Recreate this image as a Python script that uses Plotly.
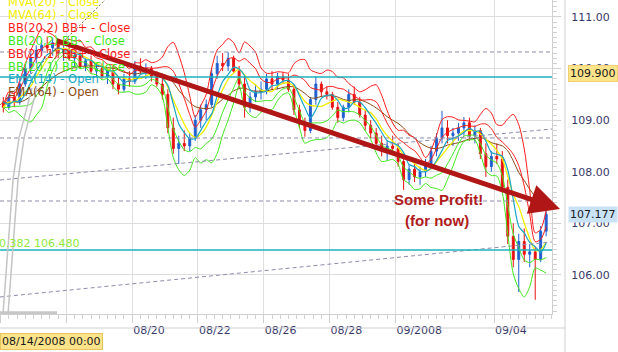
import plotly.graph_objects as go
import pandas as pd

# ---------------- data (USD/JPY, 4-hour bars) ----------------
days = ["2008-08-14", "2008-08-15", "2008-08-18", "2008-08-19", "2008-08-20", "2008-08-21",
        "2008-08-22", "2008-08-25", "2008-08-26", "2008-08-27", "2008-08-28", "2008-08-29",
        "2008-09-01", "2008-09-02", "2008-09-03", "2008-09-04", "2008-09-05"]
bar_hours = [0, 4, 8, 12, 16, 20]

opens = [109.35, 109.25, 109.45, 109.35, 109.70, 110.00,
         110.20, 110.35, 110.45, 110.40, 110.50, 110.30,
         110.35, 110.20, 110.25, 110.05, 110.15, 109.95,
         110.00, 109.85, 109.95, 109.70, 109.60, 109.80,
         109.75, 110.05, 109.95, 110.00, 109.85, 109.70,
         109.50, 108.85, 108.45, 108.55, 108.50, 108.65,
         109.00, 109.20, 109.30, 109.90, 110.10, 110.05,
         110.20, 109.95, 109.70, 109.25, 109.45, 109.55,
         109.60, 109.80, 109.70, 109.85, 109.78, 109.60,
         109.20, 108.95, 108.80, 109.40, 109.70, 109.55,
         109.50, 109.25, 109.05, 109.25, 109.50, 109.35,
         109.10, 108.90, 108.75, 108.55, 108.40, 108.50,
         108.45, 108.20, 107.85, 108.05, 107.90, 108.00,
         108.15, 108.40, 108.65, 108.85, 108.70, 108.75,
         108.85, 108.95, 108.70, 108.80, 108.35, 108.10,
         108.30, 108.25, 107.70, 106.75, 106.30, 106.65,
         106.40, 106.45, 106.30, 106.85]
highs = [109.45, 109.50, 109.55, 109.80, 110.10, 110.30,
         110.45, 110.55, 110.62, 110.60, 110.55, 110.45,
         110.45, 110.35, 110.30, 110.20, 110.25, 110.10,
         110.10, 110.00, 110.05, 109.85, 109.90, 109.95,
         110.15, 110.20, 110.10, 110.05, 109.95, 109.80,
         109.60, 109.05, 108.70, 108.80, 108.75, 109.10,
         109.30, 109.40, 110.00, 110.25, 110.30, 110.32,
         110.25, 110.05, 109.85, 109.55, 109.70, 109.75,
         109.90, 109.95, 109.92, 109.93, 109.90, 109.70,
         109.30, 109.05, 109.45, 109.85, 109.75, 109.65,
         109.55, 109.35, 109.30, 109.60, 109.65, 109.45,
         109.20, 109.00, 108.85, 108.70, 108.60, 108.70,
         108.55, 108.30, 108.15, 108.15, 108.10, 108.25,
         108.50, 108.75, 109.18, 109.00, 108.85, 108.95,
         109.06, 109.05, 108.90, 108.85, 108.55, 108.40,
         108.55, 108.40, 107.85, 107.00, 106.80, 106.90,
         106.60, 106.55, 106.95, 107.25]
lows = [109.15, 109.20, 109.25, 109.30, 109.65, 109.90,
        110.10, 110.25, 110.30, 110.25, 110.20, 110.15,
        110.15, 110.05, 110.00, 109.95, 109.90, 109.85,
        109.80, 109.70, 109.60, 109.50, 109.55, 109.65,
        109.70, 109.90, 109.80, 109.75, 109.65, 109.40,
        108.75, 108.35, 108.15, 108.40, 108.40, 108.60,
        108.85, 109.00, 109.25, 109.80, 109.95, 109.95,
        109.90, 109.60, 109.05, 109.15, 109.35, 109.40,
        109.50, 109.60, 109.60, 109.70, 109.55, 109.10,
        108.85, 108.68, 108.75, 109.30, 109.45, 109.40,
        109.20, 108.95, 108.98, 109.15, 109.30, 109.05,
        108.80, 108.65, 108.45, 108.30, 108.22, 108.35,
        108.10, 107.65, 107.75, 107.80, 107.75, 107.90,
        108.05, 108.30, 108.55, 108.55, 108.50, 108.60,
        108.70, 108.60, 108.55, 108.25, 107.90, 108.00,
        108.15, 107.60, 106.60, 106.15, 105.67, 106.25,
        106.15, 105.52, 106.25, 106.75]
closes = [109.25, 109.45, 109.35, 109.70, 110.00, 110.20,
          110.35, 110.45, 110.40, 110.50, 110.30, 110.35,
          110.20, 110.25, 110.05, 110.15, 109.95, 110.00,
          109.85, 109.95, 109.70, 109.60, 109.80, 109.75,
          110.05, 109.95, 110.00, 109.85, 109.70, 109.50,
          108.85, 108.45, 108.55, 108.50, 108.65, 109.00,
          109.20, 109.30, 109.90, 110.10, 110.05, 110.20,
          109.95, 109.70, 109.25, 109.45, 109.55, 109.60,
          109.80, 109.70, 109.85, 109.78, 109.60, 109.20,
          108.95, 108.80, 109.40, 109.70, 109.55, 109.50,
          109.25, 109.05, 109.25, 109.50, 109.35, 109.10,
          108.90, 108.75, 108.55, 108.40, 108.50, 108.45,
          108.20, 107.85, 108.05, 107.90, 108.00, 108.15,
          108.40, 108.65, 108.85, 108.70, 108.75, 108.85,
          108.95, 108.70, 108.80, 108.35, 108.10, 108.30,
          108.25, 107.70, 106.75, 106.30, 106.65, 106.40,
          106.45, 106.30, 106.85, 107.177]

legend_labels = ["MVA(20) - Close", "MVA(64) - Close", "BB(20,2) BB+ - Close",
                 "BB(20,2) BB- - Close", "BB(20,1) BB+ - Close", "BB(20,1) BB- - Close",
                 "EMA(14) - Open", "EMA(64) - Open"]
legend_colors = ["#f2ee00", "#f2ee00", "#ff1a1a", "#3ee81a", "#ff1a1a", "#3ee81a",
                 "#1aa6c4", "#8a4a12"]

tick_dates = ["2008-08-14", "2008-08-18", "2008-08-20", "2008-08-22", "2008-08-26",
              "2008-08-28", "2008-09-01", "2008-09-04"]
tick_text = ["", "", "08/20", "08/22", "08/26", "08/28", "09/2008", "09/04"]

# horizontal / sloped study levels (prices)
dashed_levels = [110.322, 108.655, 107.434]
trend_lines = [(107.841, 108.829), (105.574, 106.640)]
fib_levels = [109.837, 106.485]
last_price = 107.177
marker_price = 109.900

# ---------------- derived ----------------
times = [pd.Timestamp(d) + pd.Timedelta(hours=h) for d in days for h in bar_hours][:len(closes)]
c = pd.Series(closes)
o = pd.Series(opens)
# indicator periods are given in hourly bars -> scaled to these 4-hour bars
mva20 = c.rolling(6, min_periods=1).mean()
sd20 = c.rolling(6, min_periods=1).std(ddof=0)
bb2u, bb2l = mva20 + 2 * sd20, mva20 - 2 * sd20
bb1u, bb1l = mva20 + sd20, mva20 - sd20
ema14 = o.ewm(span=3.5, adjust=False).mean()
ema64 = o.ewm(span=16, adjust=False).mean()

PER = 4 * 3600 * 1000
fig = go.Figure()

def add_line(y, color, width=1):
    fig.add_trace(go.Scatter(x=times, y=y, mode="lines", xperiod=PER, xperiodalignment="middle",
                             line=dict(color=color, width=width, shape="spline", smoothing=0.8),
                             hoverinfo="skip", showlegend=False))

add_line(ema64, "#8a4a12")
add_line(bb2u, "#ff1a1a")
add_line(bb1u, "#ff1a1a")
add_line(bb1l, "#3ee81a")
add_line(bb2l, "#3ee81a")

fig.add_trace(go.Candlestick(
    x=times, open=opens, high=highs, low=lows, close=closes,
    xperiod=PER, xperiodalignment="middle", whiskerwidth=0,
    increasing=dict(line=dict(color="#1f5fcf", width=1), fillcolor="#1f5fcf"),
    decreasing=dict(line=dict(color="#e81010", width=1), fillcolor="#e81010"),
    showlegend=False))

add_line(mva20, "#f2ee00", 1.3)
add_line(ema14, "#1aa6c4", 1.2)

shapes = []
for lv in dashed_levels:
    shapes.append(dict(type="line", xref="paper", yref="y", x0=0, x1=1, y0=lv, y1=lv,
                       line=dict(color="#8c8cab", width=1, dash="4px,3px"), layer="above"))
for a, b in trend_lines:
    shapes.append(dict(type="line", xref="paper", yref="y", x0=0, x1=1, y0=a, y1=b,
                       line=dict(color="#8c8cab", width=1, dash="4px,3px"), layer="above"))
for lv in fib_levels:
    shapes.append(dict(type="line", xref="paper", yref="y", x0=0, x1=1, y0=lv, y1=lv,
                       line=dict(color="#1ab3bd", width=1.5), layer="above"))
# left-side drawing tools remnants
shapes.append(dict(type="path", xref="paper", yref="paper",
                   path="M 0.0054,0 L 0.0236,0.427 L 0.0344,0.561 L 0.058,0.72",
                   line=dict(color="#c4c4c4", width=1.5)))
shapes.append(dict(type="path", xref="paper", yref="paper",
                   path="M 0.0145,0 L 0.0326,0.427 L 0.0435,0.561 L 0.067,0.72",
                   line=dict(color="#c4c4c4", width=1.5)))
shapes.append(dict(type="line", xref="paper", yref="paper", x0=0, y0=0.666, x1=0.19, y1=1.0,
                   line=dict(color="#7a5a3a", width=1, dash="2px,2px")))
# outer frame of axis strips
shapes.append(dict(type="line", xref="paper", yref="paper", x0=565 / 552, x1=565 / 552,
                   y0=-45 / 314, y1=1, line=dict(color="#cfcfcf", width=1)))
shapes.append(dict(type="line", xref="paper", yref="paper", x0=0, x1=565 / 552,
                   y0=-14 / 314, y1=-14 / 314, line=dict(color="#cfcfcf", width=1)))
shapes.append(dict(type="line", xref="paper", yref="paper", x0=0, x1=57 / 552,
                   y0=0.004, y1=0.004, line=dict(color="#c6c6c6", width=3)))

ann = []
# arrow
ann.append(dict(xref="paper", yref="paper", x=560 / 552, y=(314 - 209) / 314, text="",
                showarrow=True, axref="pixel", ayref="pixel", ax=-505, ay=-169,
                arrowhead=2, arrowsize=1.2, arrowwidth=5, arrowcolor="#b01616", standoff=0))
ann.append(dict(xref="paper", yref="paper", x=438 / 552, y=(314 - 199) / 314,
                xanchor="center", yanchor="middle",
                text="<b>Some Profit!</b>", showarrow=False,
                font=dict(family="Liberation Sans", size=15, color="#b01c1c")))
ann.append(dict(xref="paper", yref="paper", x=437 / 552, y=(314 - 220) / 314,
                xanchor="center", yanchor="middle",
                text="<b>(for now)</b>", showarrow=False,
                font=dict(family="Liberation Sans", size=15, color="#b01c1c")))
# study legend
for k, (lab, col) in enumerate(zip(legend_labels, legend_colors)):
    yc = 2 + 12.9 * k
    ann.append(dict(xref="paper", yref="paper", x=6 / 552, y=(314 - yc) / 314, xanchor="left",
                    yanchor="middle", text=lab, showarrow=False,
                    font=dict(family="DejaVu Sans", size=11.5, color=col)))
ann.append(dict(xref="paper", yref="y", x=-3 / 552, y=106.62, xanchor="left", yanchor="middle",
                text="0.382 106.480", showarrow=False,
                font=dict(family="DejaVu Sans", size=11, color="#8fe83a")))
# price markers on the axis
ann.append(dict(xref="paper", yref="y", x=568 / 552, y=marker_price, xanchor="left",
                yanchor="middle", text=f"{marker_price:.3f}", showarrow=False,
                bgcolor="#fde38a", borderpad=1, bordercolor="#f0d070",
                font=dict(family="DejaVu Sans", size=11, color="#1a1a1a")))
ann.append(dict(xref="paper", yref="y", x=568 / 552, y=last_price, xanchor="left",
                yanchor="middle", text=f"{last_price:.3f}", showarrow=False,
                bgcolor="#c9e2f7", borderpad=1,
                font=dict(family="DejaVu Sans", size=11, color="#1a1a1a")))
ann.append(dict(xref="paper", yref="paper", x=0, y=-27 / 314, xanchor="left", yanchor="middle",
                text="08/14/2008 00:00", showarrow=False, bgcolor="#fde38a",
                bordercolor="#e8c460", borderwidth=1, borderpad=1,
                font=dict(family="DejaVu Sans", size=11, color="#1a1a1a")))

fig.update_layout(
    width=618, height=352, margin=dict(l=0, r=66, t=0, b=38),
    paper_bgcolor="white", plot_bgcolor="white", showlegend=False, boxgap=0.5,
    shapes=shapes, annotations=ann,
    xaxis=dict(type="date", range=["2008-08-13 23:35", "2008-09-05 18:15"],
               rangebreaks=[dict(bounds=["sat", "mon"])], rangeslider=dict(visible=False),
               tickmode="array", tickvals=tick_dates, ticktext=tick_text,
               ticklabelposition="outside right", showgrid=True, gridcolor="#dedede",
               ticks="outside", ticklen=8, tickcolor="#d0d0d0",
               minor=dict(dtick=6 * 3600 * 1000, tick0="2008-08-14", ticks="outside",
                          ticklen=4, tickcolor="#d0d0d0", showgrid=False),
               showline=True, linecolor="#cfcfcf", zeroline=False, ticklabelstandoff=6,
               tickfont=dict(family="DejaVu Sans", size=11, color="#38386a")),
    yaxis=dict(side="right", range=[105.244, 111.329], tickmode="linear", tick0=0, dtick=1,
               tickformat=".2f", showgrid=True, gridcolor="#dedede", zeroline=False,
               ticks="outside", ticklen=8, tickcolor="#d0d0d0",
               minor=dict(dtick=0.1, ticks="outside", ticklen=4, tickcolor="#d0d0d0",
                          showgrid=False),
               showline=True, linecolor="#cfcfcf", ticklabelstandoff=8,
               tickfont=dict(family="DejaVu Sans", size=11, color="#38386a")),
)

fig.write_html("out.html")
